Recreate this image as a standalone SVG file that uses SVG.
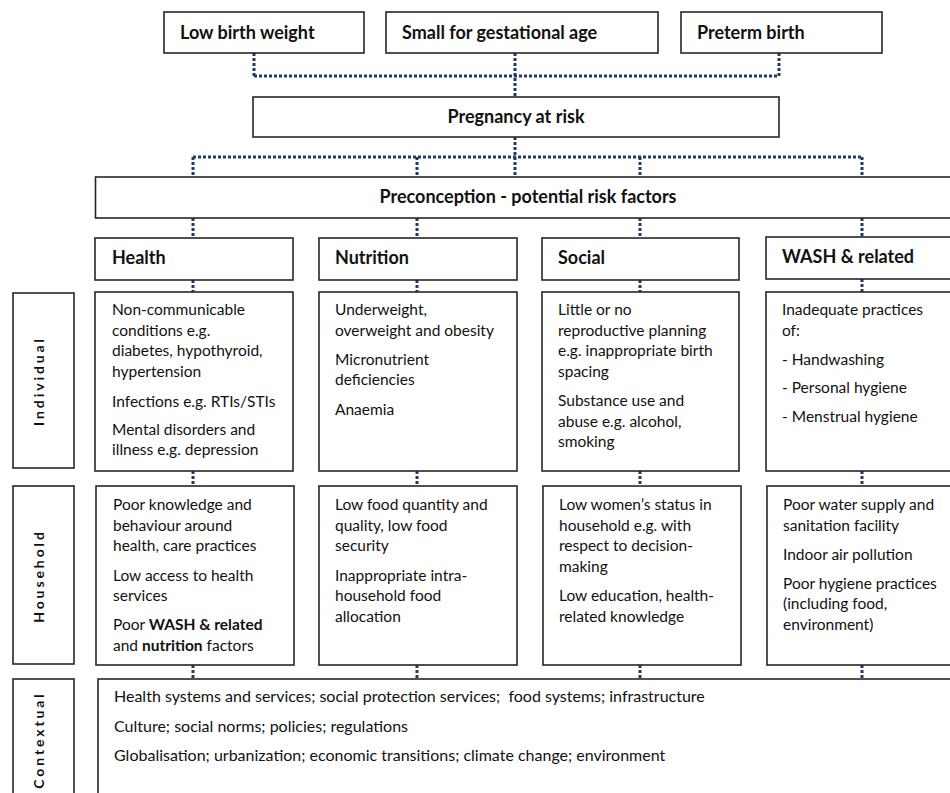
<svg xmlns="http://www.w3.org/2000/svg" width="950" height="793" viewBox="0 0 950 793">
<style>
.box{fill:#fff;stroke:#262626;stroke-width:1.6}
.conn{fill:none;stroke:#1f3a6b;stroke-width:3;stroke-dasharray:3 2}
text{font-family:Lato,"Open Sans","Liberation Sans",sans-serif;fill:#111}
.t{font-size:15.5px}
.c{font-size:16px}
.h{font-size:18px;font-weight:bold}
.side{font-size:14px;font-weight:bold;letter-spacing:2.9px}
</style>
<rect width="950" height="793" fill="#fff"/>
<g id="connectors">
<path class="conn" d="M254 53V76M515 53V97M779 53V76M254 76H779"/>
<path class="conn" d="M515 137V177M193 157H862M193 157V177M417 157V177M640 157V177M862 157V177"/>
<path class="conn" d="M193 218V238M417 218V238M640 218V238M862 218V237"/>
<path class="conn" d="M193 280V292M417 280V292M640 280V292M862 279V292"/>
<path class="conn" d="M193 471V486M417 471V486M640 471V486M862 471V486"/>
<path class="conn" d="M193 665V679M417 665V679M640 665V679M862 665V679"/>
</g>
<g id="lbw"><rect class="box" x="164" y="12" width="200" height="41"/><text class="h" x="180" y="39">Low birth weight</text></g>
<g id="sga"><rect class="box" x="386" y="12" width="272" height="41"/><text class="h" x="402" y="39">Small for gestational age</text></g>
<g id="preterm"><rect class="box" x="681" y="12" width="201" height="41"/><text class="h" x="697" y="39">Preterm birth</text></g>
<g id="pregnancy"><rect class="box" x="253" y="97" width="526" height="40"/><text class="h" x="516" y="123" text-anchor="middle">Pregnancy at risk</text></g>
<g id="preconception"><rect class="box" x="95.5" y="177" width="870" height="41"/><text class="h" x="528" y="203" text-anchor="middle">Preconception - potential risk factors</text></g>

<g id="health-head"><rect class="box" x="95" y="238" width="198" height="42"/><text class="h" x="112" y="264">Health</text></g>
<g id="nutrition-head"><rect class="box" x="319" y="238" width="198" height="42"/><text class="h" x="335" y="264">Nutrition</text></g>
<g id="social-head"><rect class="box" x="542" y="238" width="197" height="42"/><text class="h" x="558" y="264">Social</text></g>
<g id="wash-head"><rect class="box" x="766" y="237" width="200" height="42"/><text class="h" x="782" y="263">WASH &amp; related</text></g>

<g id="individual-label"><rect class="box" x="13" y="293" width="61" height="175"/><text class="side" x="44" y="381" text-anchor="middle" transform="rotate(-90 44 381)">Individual</text></g>
<g id="household-label"><rect class="box" x="13" y="486" width="61" height="178"/><text class="side" x="44" y="576" text-anchor="middle" transform="rotate(-90 44 576)">Household</text></g>
<g id="contextual-label"><rect class="box" x="13" y="679" width="61" height="130"/><text class="side" x="44" y="740" text-anchor="middle" transform="rotate(-90 44 740)">Contextual</text></g>

<g id="health-individual"><rect class="box" x="95" y="292" width="198" height="179"/>
<text class="t" x="112"><tspan x="112" y="315">Non-communicable</tspan><tspan x="112" y="336">conditions e.g.</tspan><tspan x="112" y="356">diabetes, hypothyroid,</tspan><tspan x="112" y="377">hypertension</tspan><tspan x="112" y="407">Infections e.g. RTIs/STIs</tspan><tspan x="112" y="435">Mental disorders and</tspan><tspan x="112" y="455">illness e.g. depression</tspan></text></g>
<g id="nutrition-individual"><rect class="box" x="319" y="292" width="198" height="179"/>
<text class="t" x="335"><tspan x="335" y="315">Underweight,</tspan><tspan x="335" y="336">overweight and obesity</tspan><tspan x="335" y="365">Micronutrient</tspan><tspan x="335" y="385">deficiencies</tspan><tspan x="335" y="415">Anaemia</tspan></text></g>
<g id="social-individual"><rect class="box" x="542" y="292" width="197" height="179"/>
<text class="t" x="558"><tspan x="558" y="315">Little or no</tspan><tspan x="558" y="336">reproductive planning</tspan><tspan x="558" y="356">e.g. inappropriate birth</tspan><tspan x="558" y="377">spacing</tspan><tspan x="558" y="406">Substance use and</tspan><tspan x="558" y="427">abuse e.g. alcohol,</tspan><tspan x="558" y="447">smoking</tspan></text></g>
<g id="wash-individual"><rect class="box" x="766" y="292" width="200" height="179"/>
<text class="t" x="782"><tspan x="782" y="315">Inadequate practices</tspan><tspan x="782" y="336">of:</tspan><tspan x="782" y="365">- Handwashing</tspan><tspan x="782" y="393">- Personal hygiene</tspan><tspan x="782" y="422">- Menstrual hygiene</tspan></text></g>

<g id="health-household"><rect class="box" x="96" y="486" width="198" height="179"/>
<text class="t" x="113"><tspan x="113" y="510">Poor knowledge and</tspan><tspan x="113" y="531">behaviour around</tspan><tspan x="113" y="551">health, care practices</tspan><tspan x="113" y="581">Low access to health</tspan><tspan x="113" y="601">services</tspan><tspan x="113" y="630">Poor <tspan font-weight="bold">WASH &amp; related</tspan></tspan><tspan x="113" y="651">and <tspan font-weight="bold">nutrition</tspan> factors</tspan></text></g>
<g id="nutrition-household"><rect class="box" x="319" y="486" width="198" height="179"/>
<text class="t" x="335"><tspan x="335" y="510">Low food quantity and</tspan><tspan x="335" y="531">quality, low food</tspan><tspan x="335" y="551">security</tspan><tspan x="335" y="581">Inappropriate intra-</tspan><tspan x="335" y="601">household food</tspan><tspan x="335" y="622">allocation</tspan></text></g>
<g id="social-household"><rect class="box" x="543" y="486" width="198" height="179"/>
<text class="t" x="559"><tspan x="559" y="510">Low women’s status in</tspan><tspan x="559" y="531">household e.g. with</tspan><tspan x="559" y="551">respect to decision-</tspan><tspan x="559" y="572">making</tspan><tspan x="559" y="601">Low education, health-</tspan><tspan x="559" y="622">related knowledge</tspan></text></g>
<g id="wash-household"><rect class="box" x="767" y="486" width="200" height="179"/>
<text class="t" x="783"><tspan x="783" y="510">Poor water supply and</tspan><tspan x="783" y="531">sanitation facility</tspan><tspan x="783" y="560">Indoor air pollution</tspan><tspan x="783" y="589">Poor hygiene practices</tspan><tspan x="783" y="609">(including food,</tspan><tspan x="783" y="630">environment)</tspan></text></g>

<g id="contextual"><rect class="box" x="98" y="679" width="870" height="130"/>
<text class="c" x="114"><tspan x="114" y="702" xml:space="preserve">Health systems and services; social protection services;  food systems; infrastructure</tspan><tspan x="114" y="732">Culture; social norms; policies; regulations</tspan><tspan x="114" y="761">Globalisation; urbanization; economic transitions; climate change; environment</tspan></text></g>
</svg>
